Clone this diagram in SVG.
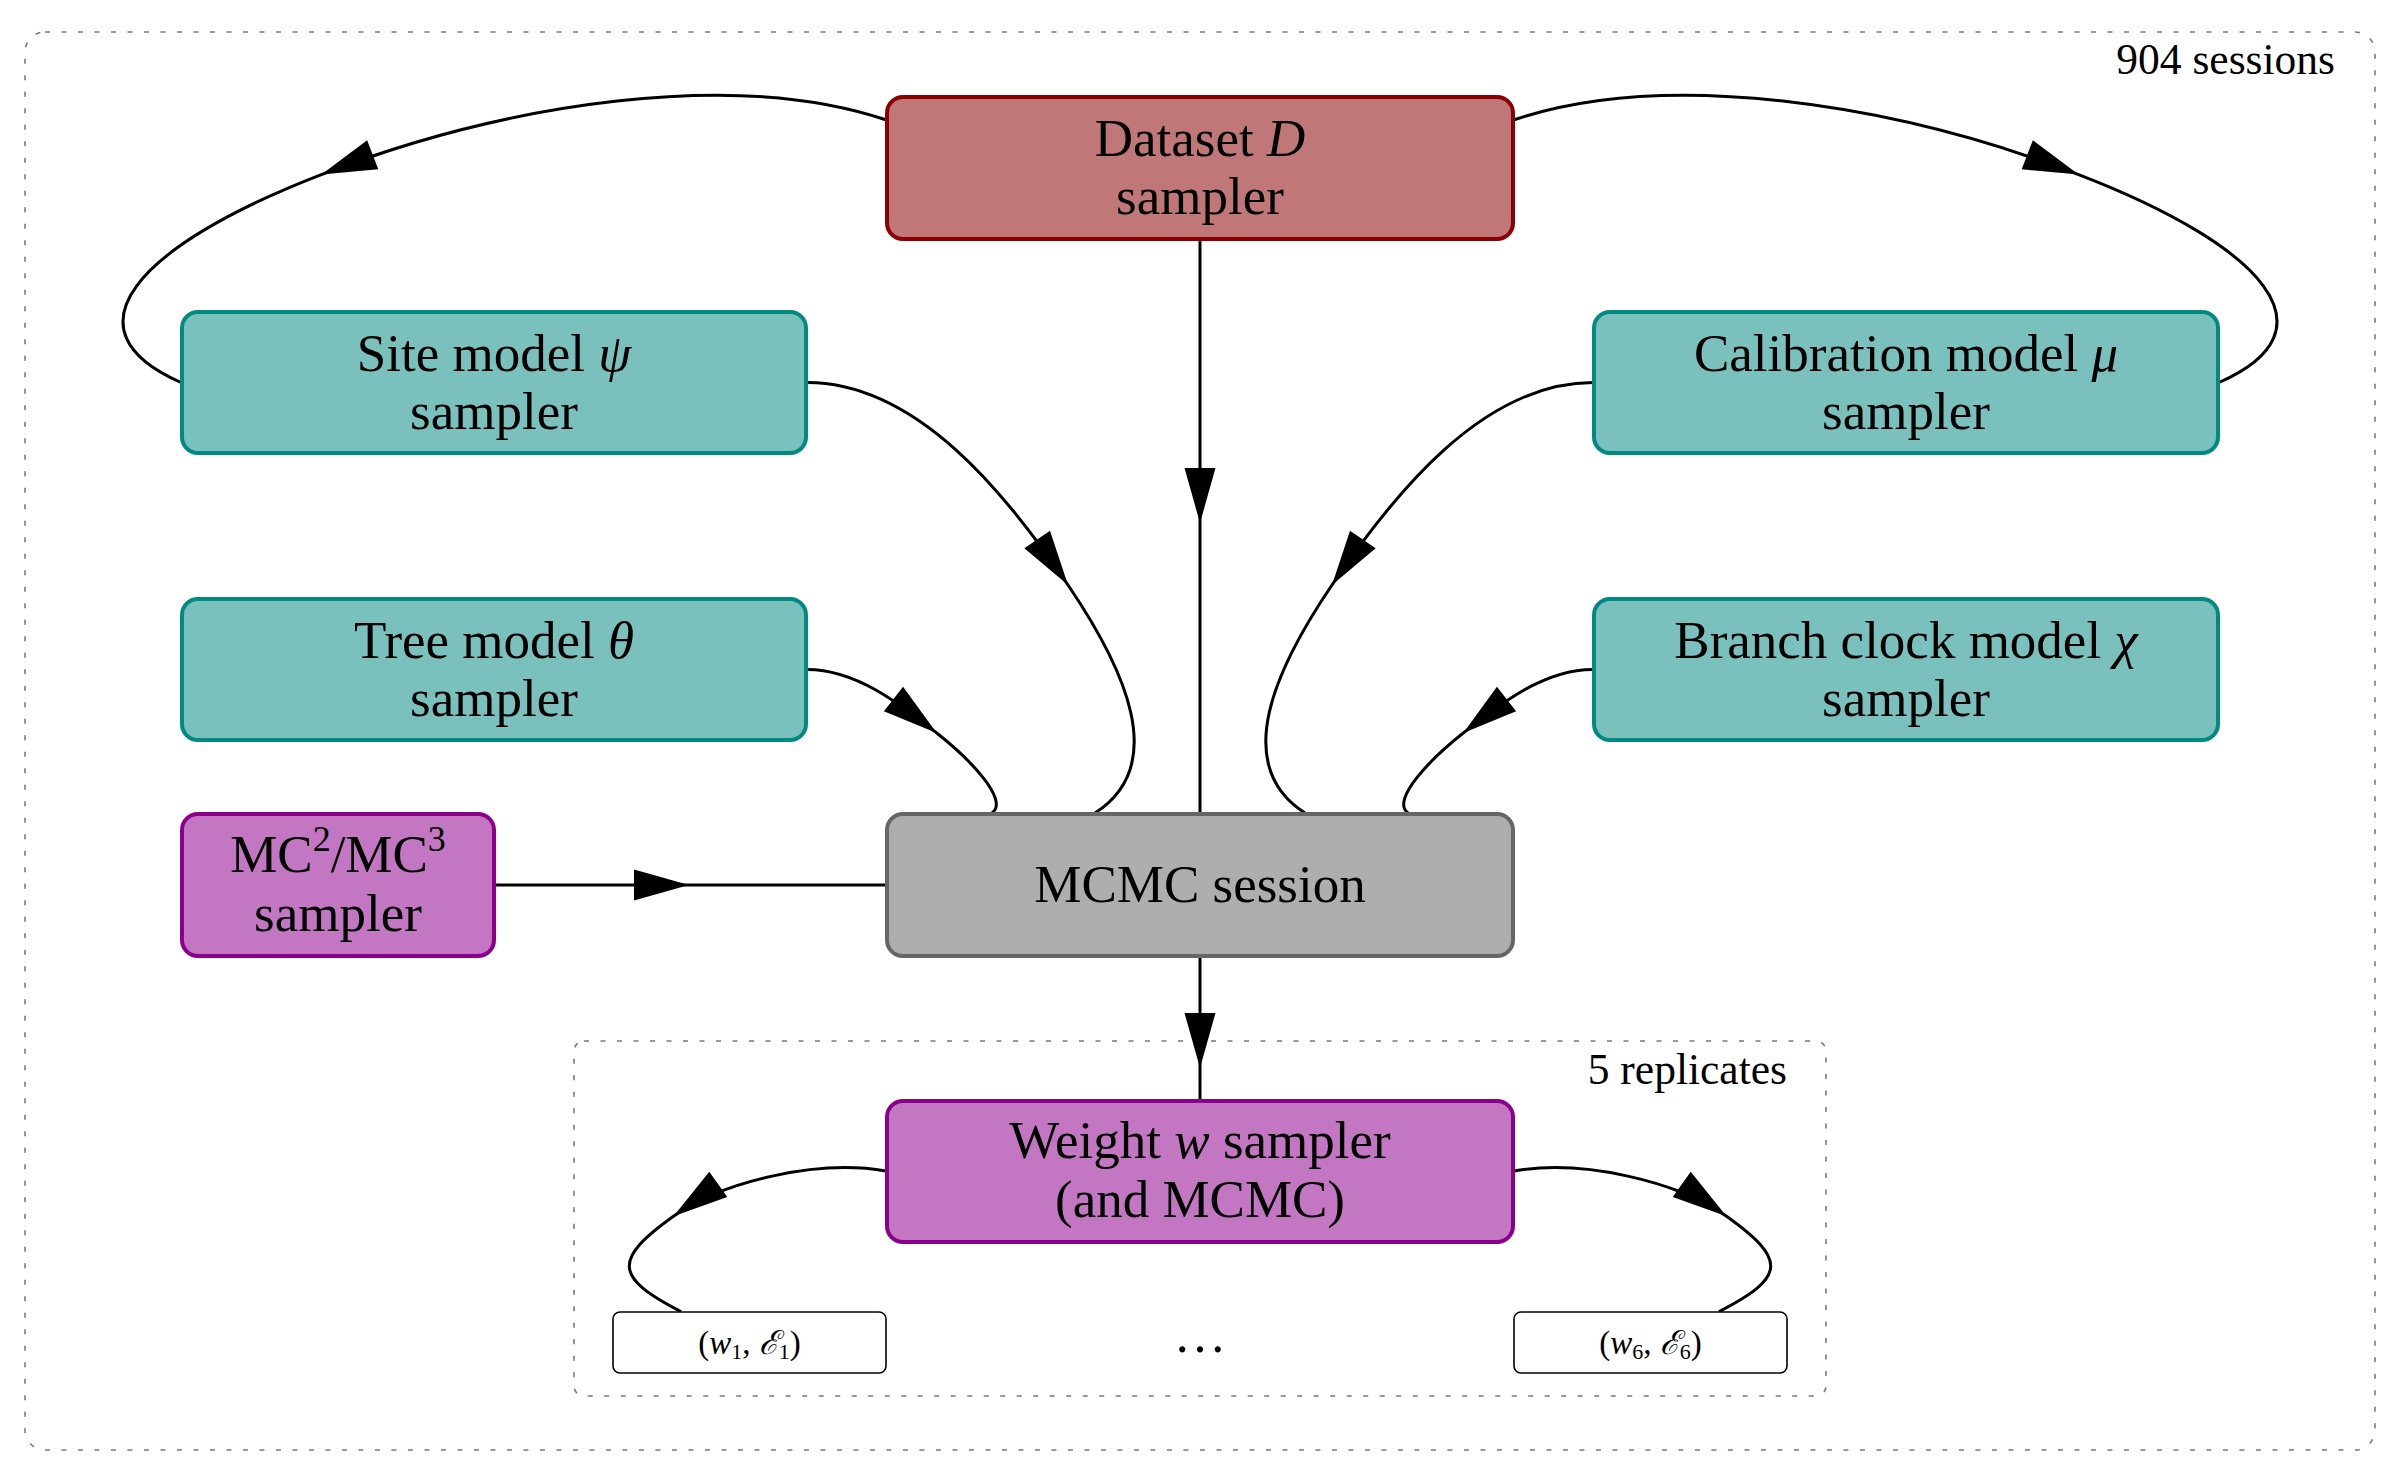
<svg xmlns="http://www.w3.org/2000/svg" xmlns:xlink="http://www.w3.org/1999/xlink" width="2400" height="1483" viewBox="0 0 2400 1483">
<style>
text{font-family:"Liberation Serif","DejaVu Serif",serif;fill:#000}
.lbl{font-size:53px;text-anchor:middle}
.small{font-size:43.5px;text-anchor:end}
.pair{font-size:33px;text-anchor:middle}
.it{font-style:italic}
.frame{fill:none;stroke:#7a7a7a;stroke-width:1.6;stroke-dasharray:5 11.5}
.edge{fill:none;stroke:#000;stroke-width:3}
.teal{fill:#7AC1BE;stroke:#008A82;stroke-width:4}
.red{fill:#C07777;stroke:#8B0000;stroke-width:4}
.purple{fill:#C377C2;stroke:#8B008B;stroke-width:4}
.gray{fill:#AEAEAE;stroke:#666666;stroke-width:4}
.res{fill:#fff;stroke:#000;stroke-width:1.6}
</style>
<defs>
<path id="ah" d="M0,0 L-55,-15.5 L-55,15.5 Z" fill="#000"/>
</defs>
<rect width="2400" height="1483" fill="#fff"/>
<g id="frames">
<rect class="frame" x="25" y="32" width="2350" height="1418" rx="20"/>
<text class="small" x="2335" y="74">904 sessions</text>
<rect class="frame" x="574" y="1041" width="1252" height="355" rx="10"/>
<text class="small" x="1787" y="1084">5 replicates</text>
</g>
<g id="connectors">
<path class="edge" d="M1200,240 L1200,813"/>
<use xlink:href="#ah" transform="translate(1200,523) rotate(90)"/>
<path class="edge" d="M1200,957 L1200,1100"/>
<use xlink:href="#ah" transform="translate(1200,1068) rotate(90)"/>
<path class="edge" d="M495,885 L886,885"/>
<use xlink:href="#ah" transform="translate(689,885)"/>
<path class="edge" d="M807,382.5 C917,382.5 1006.3,493.9 1068,585 C1124.1,667.8 1170,765 1095,813"/>
<use xlink:href="#ah" transform="translate(1068,585) rotate(55.9)"/>
<path class="edge" d="M1593,382.5 C1483,382.5 1393.7,493.9 1332,585 C1275.9,667.8 1230,765 1305,813"/>
<use xlink:href="#ah" transform="translate(1332,585) rotate(124.1)"/>
<path class="edge" d="M807,669.5 C857,669.5 901.3,705.2 936.7,733 C968.1,757.7 1010,800 992,813"/>
<use xlink:href="#ah" transform="translate(936.7,733) rotate(38.2)"/>
<path class="edge" d="M1593,669.5 C1543,669.5 1498.7,705.2 1463.3,733 C1431.9,757.7 1390,800 1408,813"/>
<use xlink:href="#ah" transform="translate(1463.3,733) rotate(141.8)"/>
<path class="edge" d="M886.5,120 C735,68.8 508,102.6 321.4,174.6 C134.8,246.6 61.9,330.4 181,382.5"/>
<use xlink:href="#ah" transform="translate(321.4,174.6) rotate(158.9)"/>
<path class="edge" d="M1513.5,120 C1665,68.8 1892,102.6 2078.6,174.6 C2265.2,246.6 2338.1,330.4 2219,382.5"/>
<use xlink:href="#ah" transform="translate(2078.6,174.6) rotate(21.1)"/>
<path class="edge" d="M886,1171 C817,1159.1 722.3,1181.4 673.5,1216.3 C612.5,1259.9 614.3,1277.3 681,1311.6"/>
<use xlink:href="#ah" transform="translate(673.5,1216.3) rotate(144.5)"/>
<path class="edge" d="M1514,1171 C1583,1159.1 1677.7,1181.4 1726.5,1216.3 C1787.5,1259.9 1785.7,1277.3 1719,1311.6"/>
<use xlink:href="#ah" transform="translate(1726.5,1216.3) rotate(35.5)"/>
</g>
<g id="dataset">
<rect class="red" x="887" y="97" width="626" height="142" rx="16"/>
<text class="lbl" x="1200" y="156">Dataset <tspan class="it">D</tspan></text>
<text class="lbl" x="1200" y="214">sampler</text>
</g>
<g id="site">
<rect class="teal" x="182" y="312" width="624" height="141" rx="16"/>
<text class="lbl" x="494" y="371">Site model <tspan class="it">ψ</tspan></text>
<text class="lbl" x="494" y="429">sampler</text>
</g>
<g id="calibration">
<rect class="teal" x="1594" y="312" width="624" height="141" rx="16"/>
<text class="lbl" x="1906" y="371">Calibration model <tspan class="it">μ</tspan></text>
<text class="lbl" x="1906" y="429">sampler</text>
</g>
<g id="tree">
<rect class="teal" x="182" y="599" width="624" height="141" rx="16"/>
<text class="lbl" x="494" y="658">Tree model <tspan class="it">θ</tspan></text>
<text class="lbl" x="494" y="716">sampler</text>
</g>
<g id="branch">
<rect class="teal" x="1594" y="599" width="624" height="141" rx="16"/>
<text class="lbl" x="1906" y="658">Branch clock model <tspan class="it">χ</tspan></text>
<text class="lbl" x="1906" y="716">sampler</text>
</g>
<g id="mc3">
<rect class="purple" x="182" y="814" width="312" height="142" rx="16"/>
<text class="lbl" x="338" y="872">MC<tspan font-size="36" dy="-21">2</tspan><tspan dy="21">/MC</tspan><tspan font-size="36" dy="-21">3</tspan></text>
<text class="lbl" x="338" y="931">sampler</text>
</g>
<g id="mcmc">
<rect class="gray" x="887" y="814" width="626" height="142" rx="16"/>
<text class="lbl" x="1200" y="902">MCMC session</text>
</g>
<g id="weight">
<rect class="purple" x="887" y="1101" width="626" height="141" rx="16"/>
<text class="lbl" x="1200" y="1158">Weight <tspan class="it">w</tspan> sampler</text>
<text class="lbl" x="1200" y="1217">(and MCMC)</text>
</g>
<g id="rep1">
<rect class="res" x="613" y="1312" width="273" height="61" rx="7"/>
<text class="pair" x="749.5" y="1354">(<tspan class="it">w</tspan><tspan font-size="22" dy="5">1</tspan><tspan dy="-5">, </tspan><tspan class="it">ℰ</tspan><tspan font-size="22" dy="5">1</tspan><tspan dy="-5">)</tspan></text>
</g>
<g id="dots">
<text class="lbl" x="1200" y="1352">…</text>
</g>
<g id="rep6">
<rect class="res" x="1514" y="1312" width="273" height="61" rx="7"/>
<text class="pair" x="1650.5" y="1354">(<tspan class="it">w</tspan><tspan font-size="22" dy="5">6</tspan><tspan dy="-5">, </tspan><tspan class="it">ℰ</tspan><tspan font-size="22" dy="5">6</tspan><tspan dy="-5">)</tspan></text>
</g>
</svg>
